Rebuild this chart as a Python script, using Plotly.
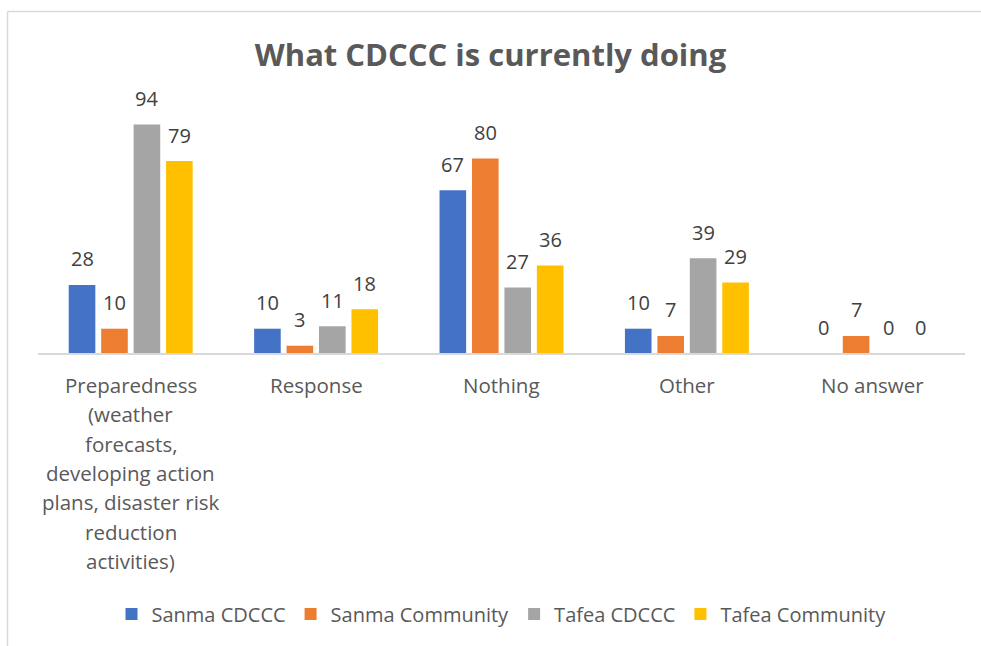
import plotly.graph_objects as go

categories = [
    "Preparedness<br>(weather<br>forecasts,<br>developing action<br>plans, disaster risk<br>reduction<br>activities)",
    "Response",
    "Nothing",
    "Other",
    "No answer",
]
series_names = ["Sanma CDCCC", "Sanma Community", "Tafea CDCCC", "Tafea Community"]
sanma_cdccc = [28, 10, 67, 10, 0]
sanma_community = [10, 3, 80, 7, 7]
tafea_cdccc = [94, 11, 27, 39, 0]
tafea_community = [79, 18, 36, 29, 0]
colors = ["#4472C4", "#ED7D31", "#A5A5A5", "#FFC000"]

series_values = [sanma_cdccc, sanma_community, tafea_cdccc, tafea_community]

TXT = "#595959"
FONT = "Open Sans"
W, H = 981, 646
ML, MR, MT, MB = 38, 16, 110, 293
BARGAP = 0.3
x_idx = list(range(len(categories)))

fig = go.Figure()
for name, vals, col in zip(series_names, series_values, colors):
    fig.add_trace(go.Bar(
        x=x_idx, y=vals, name=name,
        marker=dict(color=col, line=dict(width=0)),
    ))

annotations = []
# data labels
slot = (1 - BARGAP) / len(series_names)
for j, vals in enumerate(series_values):
    off = (j - (len(series_names) - 1) / 2) * slot
    for i, v in enumerate(vals):
        annotations.append(dict(
            x=i + off, y=v, xref="x", yref="y", text=str(v), showarrow=False,
            yanchor="middle", yshift=26, font=dict(family=FONT, size=20, color="#404040"),
        ))
# category labels (multi-line, Excel-like line spacing)
for i, cat in enumerate(categories):
    for k, line in enumerate(cat.split("<br>")):
        annotations.append(dict(
            x=i, y=0, xref="x", yref="paper", text=line, showarrow=False,
            yanchor="middle", yshift=-32 - 29.3 * k,
            font=dict(family=FONT, size=20.5, color=TXT),
        ))

pw = W - ML - MR
ph = H - MT - MB
def px_x(p):
    return (p - ML) / pw
def px_y(p):
    return (H - MB - p) / ph

shapes = [
    dict(type="line", xref="paper", yref="paper", x0=px_x(7.5), x1=px_x(7.5), y0=px_y(11.5), y1=px_y(H + 5),
         line=dict(color="#D9D9D9", width=1.5)),
    dict(type="line", xref="paper", yref="paper", x0=px_x(7.5), x1=px_x(W + 5), y0=px_y(11.5), y1=px_y(11.5),
         line=dict(color="#D9D9D9", width=1.5)),
]

fig.update_layout(
    width=W, height=H,
    margin=dict(l=ML, r=MR, t=MT, b=MB, pad=0),
    paper_bgcolor="white", plot_bgcolor="white",
    barmode="group", bargap=BARGAP, bargroupgap=0.18,
    title=dict(text="<b>What CDCCC is currently doing</b>", x=0.5, xanchor="center",
               y=1 - 55 / H, yanchor="middle", yref="container",
               font=dict(family=FONT, size=31, color=TXT)),
    xaxis=dict(showticklabels=False, showline=True, linecolor="#D9D9D9", linewidth=1.5,
               showgrid=False, ticks="", range=[-0.5, len(categories) - 0.5], fixedrange=True),
    yaxis=dict(visible=False, range=[0, 100], showgrid=False, zeroline=False),
    legend=dict(orientation="h", x=0.5, xanchor="center", y=px_y(614), yanchor="middle",
                font=dict(family=FONT, size=20, color=TXT), itemwidth=30,
                traceorder="normal", tracegroupgap=0),
    showlegend=True,
    annotations=annotations,
    shapes=shapes,
    font=dict(family=FONT, color=TXT),
)

fig.write_html("out.html")
